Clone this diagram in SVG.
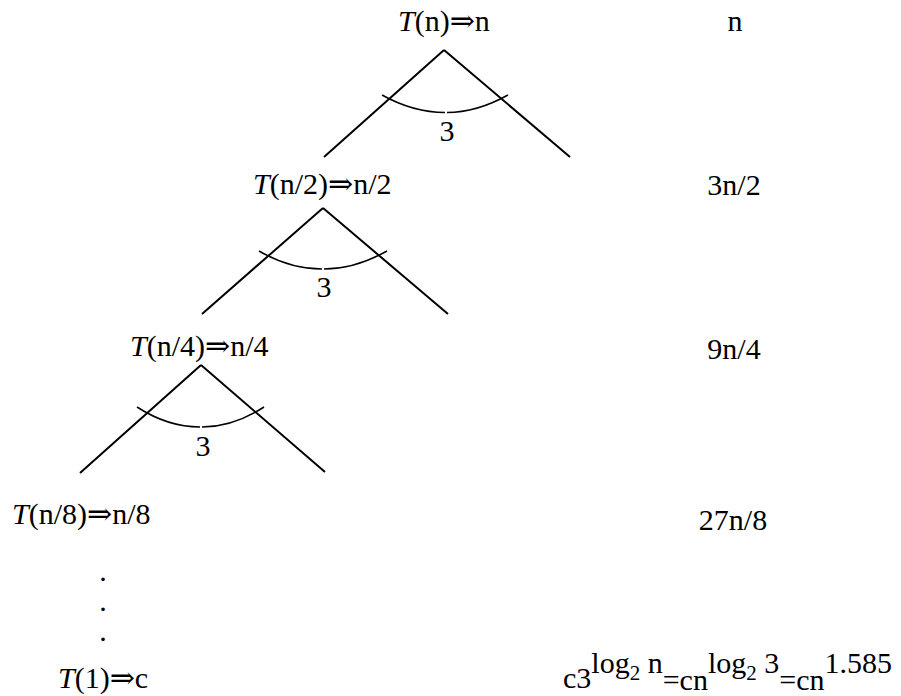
<svg xmlns="http://www.w3.org/2000/svg" width="901" height="696" viewBox="0 0 901 696">
<style>
text{font-family:"Liberation Serif","DejaVu Serif",serif;font-size:30px;fill:#000}
.i{font-style:italic}
.c{text-anchor:middle}
.ln{stroke:#000;stroke-width:2;fill:none;stroke-linecap:butt}
.arc{stroke:#000;stroke-width:1.5;fill:none}
.sm{font-size:21px}
</style>
<rect width="901" height="696" fill="#fff"/>
<g id="connectors">
<path class="ln" d="M444,50 L324,157 M444,50 L570,157"/>
<path class="arc" d="M382,95 Q413.5,112.5 445,112.5 M447,112.5 Q476.5,112.5 508,95"/>
<path class="ln" d="M323,208 L202,314 M323,208 L448,314"/>
<path class="arc" d="M259,251 Q290,269 322,269 M324,269 Q355,269 387,251"/>
<path class="ln" d="M201,365 L80,473 M201,365 L325,472"/>
<path class="arc" d="M137,407 Q168,427 200,427 M202,427 Q233,427 264,407"/>
</g>
<g id="n1"><text x="398" y="31"><tspan class="i">T</tspan>(n)⇒n</text></g>
<g id="n2"><text x="253" y="194"><tspan class="i">T</tspan>(n/2)⇒n/2</text></g>
<g id="n3"><text x="130" y="356"><tspan class="i">T</tspan>(n/4)⇒n/4</text></g>
<g id="n4"><text x="12" y="524"><tspan class="i">T</tspan>(n/8)⇒n/8</text></g>
<g id="n5"><text x="58" y="688"><tspan class="i">T</tspan>(1)⇒c</text></g>
<g id="labels">
<text class="c" x="447" y="141">3</text>
<text class="c" x="324" y="297">3</text>
<text class="c" x="203" y="456">3</text>
<text class="c" x="103" y="581">.</text>
<text class="c" x="103" y="611">.</text>
<text class="c" x="103" y="641">.</text>
</g>
<g id="sums">
<text class="c" x="735" y="31">n</text>
<text class="c" x="734" y="195">3n/2</text>
<text class="c" x="734" y="359">9n/4</text>
<text class="c" x="733" y="530">27n/8</text>
<text x="563" y="688">c3<tspan dy="-15">log</tspan><tspan class="sm" dy="7">2</tspan><tspan dy="-7"> n</tspan><tspan dy="17">=cn</tspan><tspan dy="-17">log</tspan><tspan class="sm" dy="7">2</tspan><tspan dy="-7"> 3</tspan><tspan dy="17">=cn</tspan><tspan dy="-17">1.585</tspan></text>
</g>
</svg>
